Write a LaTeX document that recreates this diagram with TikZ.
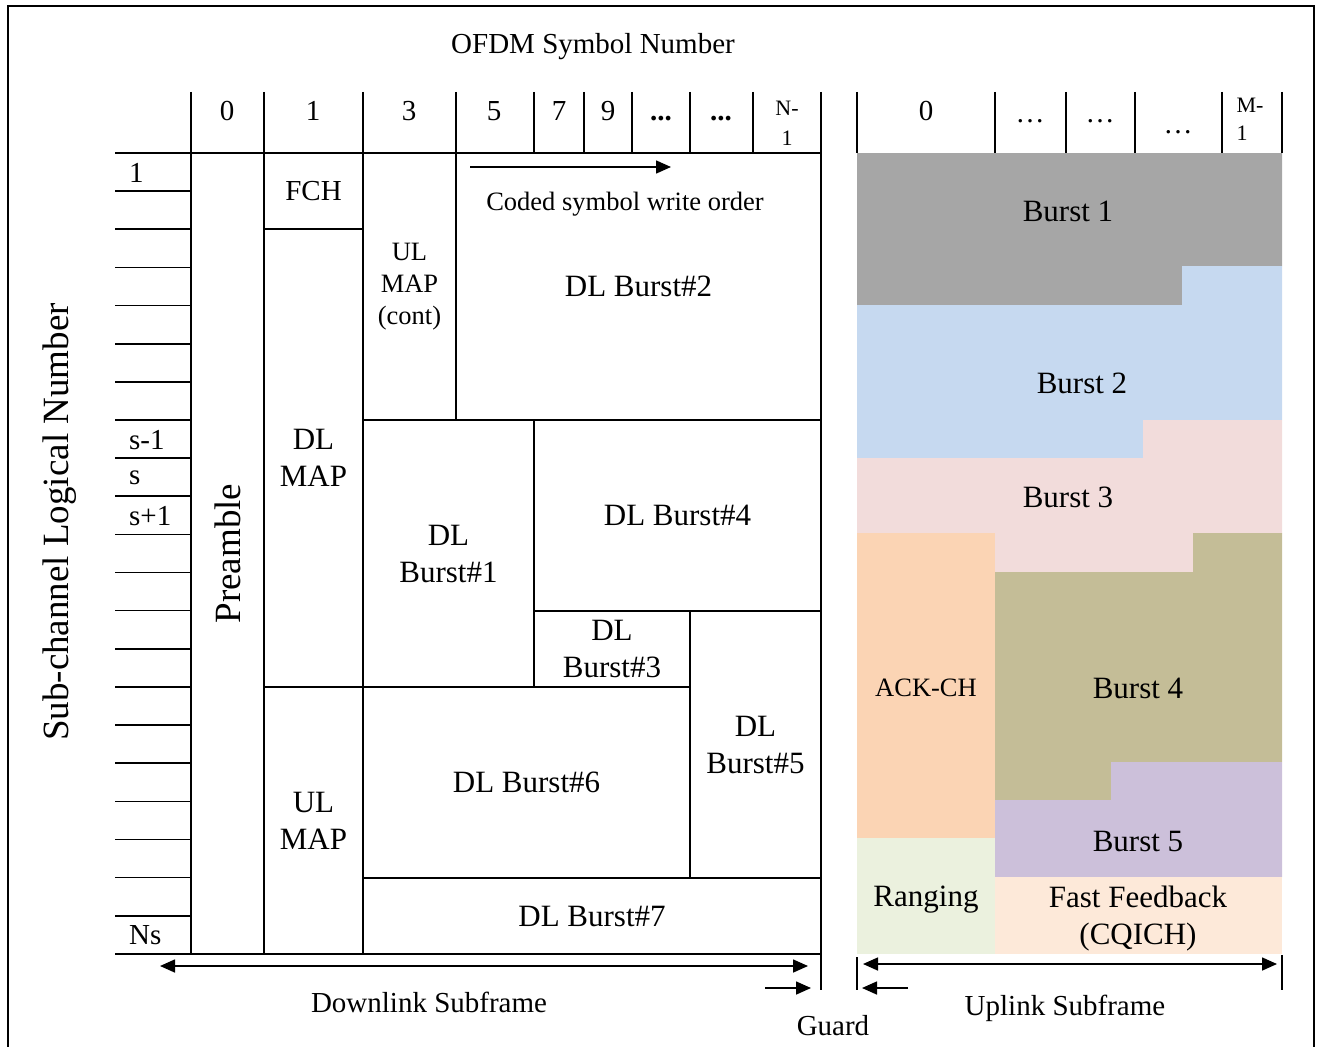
\documentclass[tikz,border=0pt]{standalone}
\usepackage{fontspec}
\setmainfont{Liberation Serif}
\usetikzlibrary{arrows.meta}

\definecolor{burstgray}{HTML}{A6A6A6}
\definecolor{burstblue}{HTML}{C6D9F0}
\definecolor{burstpink}{HTML}{F2DCDB}
\definecolor{ackpeach}{HTML}{FBD4B4}
\definecolor{burstolive}{HTML}{C4BD97}
\definecolor{burstlilac}{HTML}{CCC0DA}
\definecolor{ranggreen}{HTML}{EBF1DE}
\definecolor{cqichpeach}{HTML}{FDE9D9}

\newcommand{\bigtxt}{\fontsize{31}{37}\selectfont}
\newcommand{\midtxt}{\fontsize{29}{34}\selectfont}
\newcommand{\smalltxt}{\fontsize{26.5}{32}\selectfont}
\newcommand{\tinytxt}{\fontsize{22}{29}\selectfont}
\newcommand{\hugetxt}{\fontsize{37}{42}\selectfont}

% name, x1, y1, x2, y2, text
\newcommand{\dlcell}[6]{%
  \node[cell, minimum width={#4-#2}, minimum height={#5-#3}] (#1)
    at ({(#2+#4)/2},{(#3+#5)/2}) {#6};}

\begin{document}
\begin{tikzpicture}[x=1pt,y=-1pt]
   \tikzstyle{grid}=[line width=1.6pt]
   \tikzstyle{cell}=[draw, line width=1.6pt, inner sep=0pt, align=center, font=\bigtxt]
   \tikzstyle{head}=[anchor=base, inner sep=0pt, font=\midtxt]
   \tikzstyle{rowlbl}=[anchor=west, inner sep=0pt, font=\midtxt]
   \tikzstyle{ullbl}=[inner sep=0pt, align=center, font=\bigtxt]
   \tikzstyle{dimarrow}=[line width=1.6pt]
   \useasboundingbox (0,0) rectangle (1321,1046);

   % frame
   \draw[line width=1.6pt] (8,1050) -- (8,6) -- (1314,6) -- (1314,1050);

   \node[font=\midtxt] (title) at (593,47) {OFDM Symbol Number};
   \node[font=\hugetxt, rotate=90] (ylabel) at (60,522) {Sub-channel Logical Number};

   % downlink header
   \foreach \x in {191,264,363,456,534,584,632,690,753}
      \draw[grid] (\x,92) -- (\x,153);
   \node[head] (h0) at (227,121) {0};
   \node[head] (h1) at (313,121) {1};
   \node[head] (h3) at (409,121) {3};
   \node[head] (h5) at (494,121) {5};
   \node[head] (h7) at (559,121) {7};
   \node[head] (h9) at (608,121) {9};
   \node[head] (hdotsa) at (661,121) {\textbf{...}};
   \node[head] (hdotsb) at (721,121) {\textbf{...}};
   \node[head, font=\tinytxt] (hna) at (787,115) {N-};
   \node[head, font=\tinytxt] (hnb) at (787,145) {1};

   % sub-channel rows
   \foreach \i in {0,...,21}
      \draw[grid] (115,{153+\i*38.14}) -- (191,{153+\i*38.14});
   \node[rowlbl] (r1) at (129,173) {1};
   \node[rowlbl] (rsm) at (129,440) {s-1};
   \node[rowlbl] (rs) at (129,478) {s};
   \node[rowlbl] (rsp) at (129,516) {s+1};
   \node[rowlbl] (rns) at (129,935) {Ns};

   % downlink subframe
   \dlcell{preamble}{191}{153}{264}{954}{}
   \node[font=\hugetxt, rotate=90] (pretxt) at (preamble) {Preamble};
   \dlcell{fch}{264}{153}{363}{229}{\midtxt FCH}
   \dlcell{dlmap}{264}{229}{363}{687}{DL\\MAP}
   \dlcell{ulmap}{264}{687}{363}{954}{UL\\MAP}
   \node[cell, font=\smalltxt, minimum width=93, minimum height=267] (ulmapc)
      at (409.5,286.5) {UL\\MAP\\(cont)};
   \dlcell{dlb2}{456}{153}{821}{420}{DL Burst\#2}
   \dlcell{dlb1}{363}{420}{534}{687}{DL\\Burst\#1}
   \dlcell{dlb4}{534}{420}{821}{611}{DL Burst\#4}
   \dlcell{dlb3}{534}{611}{690}{687}{DL\\Burst\#3}
   \dlcell{dlb5}{690}{611}{821}{878}{DL\\Burst\#5}
   \dlcell{dlb6}{363}{687}{690}{878}{DL Burst\#6}
   \dlcell{dlb7}{363}{878}{821}{954}{DL Burst\#7}
   \draw[grid] (821,92) -- (821,990);

   \coordinate (wrA) at (470,167);
   \coordinate (wrB) at (671,167);
   \draw[dimarrow, -{Triangle[length=15pt,width=13pt]}] (wrA) -- (wrB);
   \node[font=\smalltxt] (wrtxt) at (625,204) {Coded symbol write order};

   % uplink header
   \foreach \x in {857,995,1066,1135,1222,1282}
      \draw[grid] (\x,92) -- (\x,153);
   \node[head] (u0) at (926,121) {0};
   \node[head] (udotsa) at (1030,123) {\dots};
   \node[head] (udotsb) at (1100,123) {\dots};
   \node[head] (udotsc) at (1178,133) {\dots};
   \node[head, font=\tinytxt] (uma) at (1250,113) {M-};
   \node[head, font=\tinytxt] (umb) at (1242,140) {1};

   % uplink subframe
   \fill[burstgray] (857,153) -- (1282,153) -- (1282,266) -- (1182,266) -- (1182,305) -- (857,305) -- cycle;
   \fill[burstblue] (857,305) -- (1182,305) -- (1182,266) -- (1282,266) -- (1282,420) -- (1143,420) -- (1143,458) -- (857,458) -- cycle;
   \fill[burstpink] (857,458) -- (1143,458) -- (1143,420) -- (1282,420) -- (1282,533) -- (1193,533) -- (1193,572) -- (995,572) -- (995,533) -- (857,533) -- cycle;
   \fill[ackpeach] (857,533) rectangle (995,838);
   \fill[burstolive] (995,572) -- (1193,572) -- (1193,533) -- (1282,533) -- (1282,762) -- (1111,762) -- (1111,800) -- (995,800) -- cycle;
   \fill[burstlilac] (995,800) -- (1111,800) -- (1111,762) -- (1282,762) -- (1282,877) -- (995,877) -- cycle;
   \fill[ranggreen] (857,838) rectangle (995,954);
   \fill[cqichpeach] (995,877) rectangle (1282,954);

   \node[ullbl] (ub1) at (1068,211) {Burst 1};
   \node[ullbl] (ub2) at (1082,383) {Burst 2};
   \node[ullbl] (ub3) at (1068,497) {Burst 3};
   \node[ullbl, font=\smalltxt] (uack) at (926,688) {ACK-CH};
   \node[ullbl] (ub4) at (1138,688) {Burst 4};
   \node[ullbl] (ub5) at (1138,841) {Burst 5};
   \node[ullbl] (urng) at (926,900) {Ranging};
   \node[ullbl] (ucqi) at (1138,919) {Fast Feedback\\(CQICH)};

   % subframe extents
   \draw[grid] (857,957) -- (857,990);
   \draw[grid] (1282,955) -- (1282,990);
   \coordinate (dlL) at (160,966);
   \coordinate (dlR) at (808,966);
   \draw[dimarrow, {Triangle[length=15pt,width=13pt]}-{Triangle[length=15pt,width=13pt]}] (dlL) -- (dlR);
   \coordinate (ulL) at (863,964);
   \coordinate (ulR) at (1277,964);
   \draw[dimarrow, {Triangle[length=15pt,width=13pt]}-{Triangle[length=15pt,width=13pt]}] (ulL) -- (ulR);
   \coordinate (gdA) at (765,988);
   \coordinate (gdB) at (811,988);
   \draw[dimarrow, -{Triangle[length=15pt,width=13pt]}] (gdA) -- (gdB);
   \coordinate (gdC) at (908,988);
   \coordinate (gdD) at (862,988);
   \draw[dimarrow, -{Triangle[length=15pt,width=13pt]}] (gdC) -- (gdD);

   \node[font=\midtxt] (dltxt) at (429,1002) {Downlink Subframe};
   \node[font=\midtxt] (ultxt) at (1065,1008) {Uplink Subframe};
   \node[font=\midtxt] (gdtxt) at (833,1026) {Guard};
\end{tikzpicture}
\end{document}
